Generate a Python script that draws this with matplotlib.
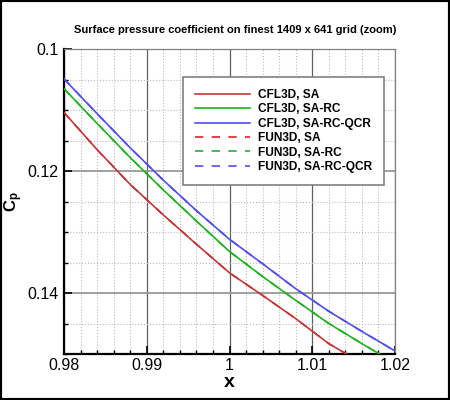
import matplotlib
matplotlib.use('Agg')
import matplotlib.pyplot as plt
from matplotlib.patches import Rectangle
from matplotlib.ticker import MultipleLocator, FormatStrFormatter

plt.rcParams['font.family'] = ['Liberation Sans', 'DejaVu Sans']
plt.rcParams['mathtext.fontset'] = 'custom'
plt.rcParams['mathtext.rm'] = 'Liberation Sans'
plt.rcParams['mathtext.bf'] = 'Liberation Sans:bold'

x = [0.98, 0.984, 0.988, 0.992, 0.996, 1.0, 1.004, 1.008, 1.012, 1.016, 1.02]
cfl3d_sa = [0.1104, 0.1165, 0.1222, 0.1272, 0.1320, 0.1367, 0.1404, 0.1442, 0.1483, 0.1515, 0.1550]
cfl3d_sarc = [0.1065, 0.1122, 0.1178, 0.1231, 0.1282, 0.1332, 0.1373, 0.1412, 0.1450, 0.1483, 0.1515]
cfl3d_qcr = [0.1049, 0.1106, 0.1162, 0.1215, 0.1265, 0.1312, 0.1352, 0.1393, 0.1430, 0.1463, 0.1495]
fun3d_sa = [0.1104, 0.1165, 0.1222, 0.1272, 0.1320, 0.1367, 0.1404, 0.1442, 0.1483, 0.1515, 0.1550]
fun3d_sarc = [0.1065, 0.1122, 0.1178, 0.1231, 0.1282, 0.1332, 0.1373, 0.1412, 0.1450, 0.1483, 0.1515]
fun3d_qcr = [0.1049, 0.1106, 0.1162, 0.1215, 0.1265, 0.1312, 0.1352, 0.1393, 0.1430, 0.1463, 0.1495]

fig = plt.figure(figsize=(4.5, 4.0), dpi=100)
ax = fig.add_axes([0.1422, 0.115, 0.7356, 0.7625])

# dashed FUN3D curves sit under the CFL3D ones
ax.plot(x, fun3d_sa, color='#e0202a', lw=1.2, ls=(0, (5, 5)), label='FUN3D, SA', zorder=2)
ax.plot(x, fun3d_sarc, color='#20b040', lw=1.2, ls=(0, (5, 5)), label='FUN3D, SA-RC', zorder=2)
ax.plot(x, fun3d_qcr, color='#5050e0', lw=1.2, ls=(0, (5, 5)), label='FUN3D, SA-RC-QCR', zorder=2)
ax.plot(x, cfl3d_sa, color='#c03838', lw=1.2, label='CFL3D, SA', zorder=3)
ax.plot(x, cfl3d_sarc, color='#20b020', lw=1.2, label='CFL3D, SA-RC', zorder=3)
ax.plot(x, cfl3d_qcr, color='#5050e8', lw=1.2, label='CFL3D, SA-RC-QCR', zorder=3)

ax.set_xlim(0.98, 1.02)
ax.set_ylim(0.15, 0.1)

ax.xaxis.set_major_locator(MultipleLocator(0.01))
ax.xaxis.set_minor_locator(MultipleLocator(0.002))
ax.yaxis.set_major_locator(MultipleLocator(0.02))
ax.yaxis.set_minor_locator(MultipleLocator(0.005))
ax.xaxis.set_major_formatter(FormatStrFormatter('%g'))
ax.yaxis.set_major_formatter(FormatStrFormatter('%g'))

ax.tick_params(which='both', direction='in', top=False, right=False, labelsize=11.5)
ax.tick_params(axis='x', pad=3)
ax.tick_params(axis='y', pad=4)
ax.tick_params(which='major', length=6, width=1.2)
ax.tick_params(which='minor', length=3, width=1)

ax.xaxis.grid(True, which='major', color='#606060', lw=0.9)
ax.yaxis.grid(True, which='major', color='#999999', lw=1.3)
ax.grid(True, which='minor', color='#bbbbbb', lw=0.8, ls=':')
ax.set_axisbelow(True)

for s in ['left', 'bottom']:
    ax.spines[s].set_linewidth(1.6)
    ax.spines[s].set_color('black')
for s in ['top', 'right']:
    ax.spines[s].set_linewidth(0.9)
    ax.spines[s].set_color('#808080')

ax.set_xlabel('x', fontsize=14, fontweight='bold')
ax.set_ylabel(r'$\mathbf{C_p}$', fontsize=12)
ax.xaxis.set_label_coords(0.5, -0.064)
ax.yaxis.set_label_coords(-0.118, 0.5)

fig.text(0.522, 0.925, 'Surface pressure coefficient on finest 1409 x 641 grid (zoom)',
         ha='center', va='center', fontsize=8, fontweight='bold')

h, lab = ax.get_legend_handles_labels()
order = [3, 4, 5, 0, 1, 2]
leg = ax.legend([h[i] for i in order], [lab[i] for i in order],
                loc='upper right', bbox_to_anchor=(0.967, 0.908), borderaxespad=0,
                prop={'weight': 'bold', 'size': 8.6}, handlelength=4.6,
                handletextpad=0.65, labelspacing=0.2, borderpad=1.0,
                fancybox=False, framealpha=1, edgecolor='#808080')
leg.get_frame().set_linewidth(1.2)

fig.patches.append(Rectangle((0, 0), 1, 1, transform=fig.transFigure, fill=False,
                             ec='black', lw=3))

fig.savefig('out.png', dpi=100)
